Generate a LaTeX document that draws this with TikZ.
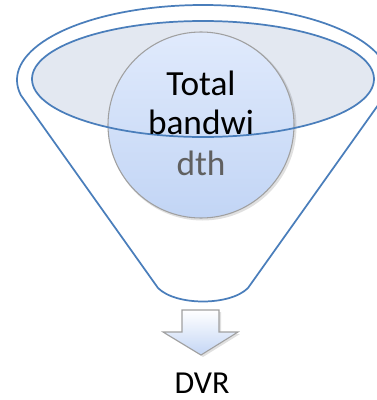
\documentclass[tikz,border=0pt]{standalone}
\usepackage{fontspec}
\setmainfont{Carlito}
\definecolor{funnelblue}{RGB}{74,126,187}
\definecolor{ellfill}{RGB}{227,232,241}
\definecolor{circtop}{RGB}{224,234,252}
\definecolor{circbot}{RGB}{194,213,245}
\definecolor{circline}{RGB}{160,160,160}
\definecolor{greytext}{RGB}{96,96,96}
\definecolor{arrowbot}{RGB}{196,214,245}
\tikzset{
  funnelline/.style={draw=funnelblue, line width=1.3pt},
  bigtext/.style={font=\fontsize{26.5}{31}\selectfont, anchor=base, inner sep=0pt},
  lbltext/.style={font=\fontsize{24}{28}\selectfont, anchor=base, inner sep=0pt}
}
\begin{document}
\begin{tikzpicture}[x=0.75pt,y=-0.75pt]
\useasboundingbox (0,0) rectangle (377,400);
\clip (0,0) rectangle (377,400);
% outer funnel
\draw[funnelline, fill=white] (203,80) ++(191.6:139.5pt and 56.25pt)
  arc[start angle=191.6, end angle=-11.6, x radius=139.5pt, y radius=56.25pt]
  -- (248,288) .. controls (230,306) and (176,306) .. (158,288) -- cycle;
% inner ellipse fill
\fill[ellfill] (203,79) ellipse[x radius=128.25pt, y radius=43.5pt];
% circle shadow + circle
\fill[black, opacity=0.12] (202.5,126.5) circle[radius=70.5pt];
\shade[top color=circtop, bottom color=circbot, draw=circline, line width=0.8pt]
  (201,125) circle[radius=69.75pt];
% inner ellipse outline
\draw[funnelline] (203,79) ellipse[x radius=128.25pt, y radius=43.5pt];
% text
\node[bigtext] (t1) at (201,95) {Total};
\node[bigtext] (t2) at (201,134) {bandwi};
\node[bigtext, text=greytext] (t3) at (201,175) {dth};
% block arrow
\fill[black, opacity=0.12] (184,312) -- (221,312) -- (221,334) -- (240,334) -- (203,357) -- (165,334) -- (184,334) -- cycle;
\shade[top color=white, bottom color=arrowbot, draw=circline, line width=0.8pt]
  (182,310) -- (219,310) -- (219,332) -- (238,332) -- (201,355) -- (163,332) -- (182,332) -- cycle;
\node[lbltext] (dvr) at (202,393) {DVR};
\end{tikzpicture}
\end{document}
